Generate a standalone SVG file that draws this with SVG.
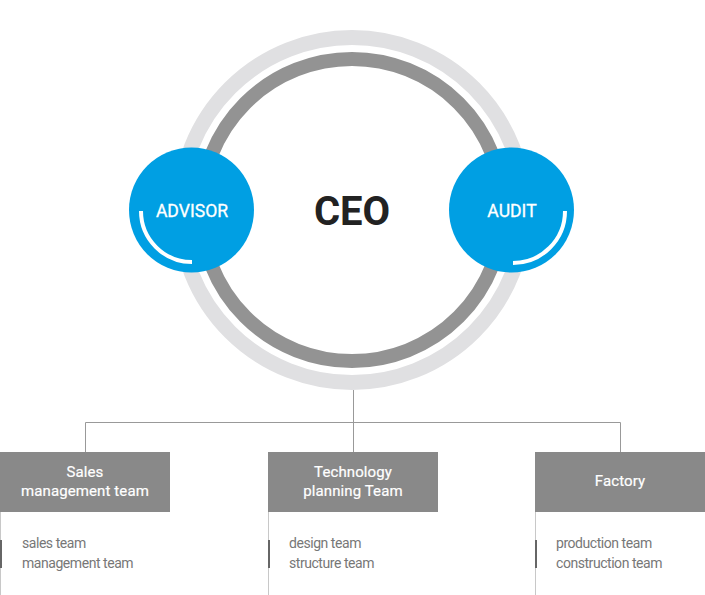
<svg xmlns="http://www.w3.org/2000/svg" width="705" height="595" viewBox="0 0 705 595">
<style>
.ring-l{fill:none;stroke:#e0e0e2;stroke-width:15}
.ring-d{fill:none;stroke:#939393;stroke-width:14}
.bub{fill:#009fe3}
.arc{fill:none;stroke:#fff;stroke-width:4}
.bt{font-family:Roboto,"Liberation Sans",sans-serif;font-size:17.6px;fill:#fff;text-anchor:middle;stroke:#fff;stroke-width:0.3px}
.ceo{font-family:Roboto,"Liberation Sans",sans-serif;font-size:40px;font-weight:bold;fill:#222;text-anchor:middle}
.box{fill:#898989}
.ht{font-family:Roboto,"Liberation Sans",sans-serif;font-size:15px;letter-spacing:0.1px;fill:#fff;text-anchor:middle;stroke:#fff;stroke-width:0.2px}
.lt{font-family:Roboto,"Liberation Sans",sans-serif;font-size:14px;letter-spacing:-0.45px;fill:#777}
.vl{stroke:#c8c8c8;stroke-width:1}
.bar{fill:#666}
.con{stroke:#999;stroke-width:1;fill:none}
</style>
<rect width="705" height="595" fill="#fff"/>
<g id="ceo">
<circle class="ring-l" cx="352" cy="210" r="172.5"/>
<circle class="ring-d" cx="352" cy="210" r="151"/>
<text class="ceo" x="352" y="225">CEO</text>
</g>
<g id="advisor">
<circle class="bub" cx="191.5" cy="210" r="62.5"/>
<path class="arc" d="M141 211 A51 51 0 0 0 192 262"/>
<text class="bt" x="192" y="217">ADVISOR</text>
</g>
<g id="audit">
<circle class="bub" cx="511.5" cy="210" r="62.5"/>
<path class="arc" d="M565 211 A52 52 0 0 1 513 263"/>
<text class="bt" x="512" y="217">AUDIT</text>
</g>
<g id="connectors">
<path class="con" d="M353.5 390V422.5M85.5 452V422.5H620.5V452M353.5 422.5V452"/>
</g>
<g id="sales">
<rect class="box" x="0" y="452" width="170" height="60"/>
<text class="ht" x="85" y="477">Sales</text>
<text class="ht" x="85" y="496">management team</text>
<line class="vl" x1="0.5" y1="512" x2="0.5" y2="595"/>
<rect class="bar" x="0" y="540" width="2" height="28"/>
<text class="lt" x="22" y="548">sales team</text>
<text class="lt" x="22" y="568">management team</text>
</g>
<g id="tech">
<rect class="box" x="268" y="452" width="170" height="60"/>
<text class="ht" x="353" y="477">Technology</text>
<text class="ht" x="353" y="496">planning Team</text>
<line class="vl" x1="268.5" y1="512" x2="268.5" y2="595"/>
<rect class="bar" x="268" y="540" width="2" height="28"/>
<text class="lt" x="289" y="548">design team</text>
<text class="lt" x="289" y="568">structure team</text>
</g>
<g id="factory">
<rect class="box" x="535" y="452" width="170" height="60"/>
<text class="ht" x="620" y="486">Factory</text>
<line class="vl" x1="535.5" y1="512" x2="535.5" y2="595"/>
<rect class="bar" x="535" y="540" width="2" height="28"/>
<text class="lt" x="556" y="548">production team</text>
<text class="lt" x="556" y="568">construction team</text>
</g>
</svg>
